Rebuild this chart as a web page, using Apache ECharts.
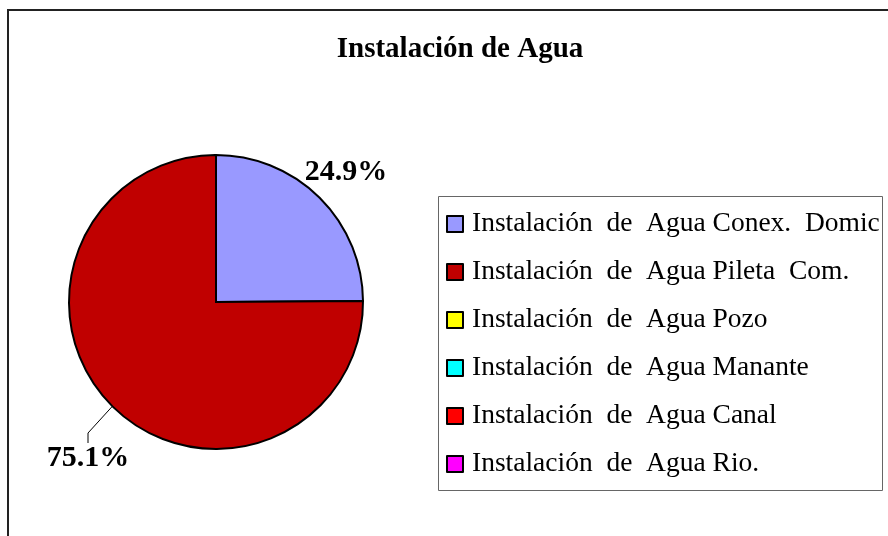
<!DOCTYPE html>
<html>
<head>
<meta charset="utf-8">
<script src="https://cdn.jsdelivr.net/npm/echarts@6/dist/echarts.min.js"></script>
<style>
html,body{margin:0;padding:0;background:#fff}
#chart{width:888px;height:536px}
</style>
</head>
<body>
<div id="chart"></div>
<script>
var categories = [
    'Instalación  de  Agua Conex.  Domic',
    'Instalación  de  Agua Pileta  Com.',
    'Instalación  de  Agua Pozo',
    'Instalación  de  Agua Manante',
    'Instalación  de  Agua Canal',
    'Instalación  de  Agua Rio.'
]
var values = [24.9, 75.1, 0, 0, 0, 0]
var colors = ['#9999ff', '#c00000', '#ffff00', '#00ffff', '#ff0000', '#ff00ff']

var serif = '"Liberation Serif", "Times New Roman", serif'

var pie_data = []
for (var i = 0; i < categories.length; i++) {
    var item = {name: categories[i], value: values[i], itemStyle: {color: colors[i]}}
    if (values[i] == 0) {
        item.label = {show: false}
        item.labelLine = {show: false}
    }
    pie_data.push(item)
}
pie_data[0].labelLine = {show: false}

var chart = echarts.init(document.getElementById('chart'))

var opt = {
    animation: false,
    title: {
        text: 'Instalación de Agua',
        left: 455,
        top: 30,
        textAlign: 'center',
        textStyle: {fontFamily: serif, fontSize: 29, fontWeight: 'bold', color: '#000'}
    },
    graphic: [
        {type: 'rect', shape: {x: 8, y: 10, width: 900, height: 560},
         style: {fill: 'none', stroke: '#222', lineWidth: 2}, silent: true, z: -1},
        {type: 'rect', shape: {x: 438.5, y: 196.5, width: 444, height: 294},
         style: {fill: 'none', stroke: '#666', lineWidth: 1}, silent: true, z: -1}
    ],
    legend: {
        orient: 'vertical',
        left: 446,
        top: 210,
        padding: 0,
        itemWidth: 16,
        itemHeight: 16,
        itemGap: 20,
        icon: 'rect',
        selectedMode: false,
        textStyle: {fontFamily: serif, fontSize: 27.5, color: '#000',
                    padding: [0, 0, 0, 4], width: 410, overflow: 'truncate', ellipsis: ''},
        data: categories
    },
    series: [{
        type: 'pie',
        center: [216, 302],
        radius: 147,
        startAngle: 90,
        percentPrecision: 1,
        avoidLabelOverlap: false,
        itemStyle: {borderColor: '#000', borderWidth: 2},
        emphasis: {disabled: true},
        label: {
            show: true,
            formatter: '{d}%',
            fontFamily: serif,
            fontSize: 30,
            fontWeight: 'bold',
            color: '#000'
        },
        labelLine: {show: true, length: 10, length2: 10, lineStyle: {color: '#000', width: 1}},
        labelLayout: function(params){
            if (params.dataIndex == 0) return {x: 346, y: 172, align: 'center', verticalAlign: 'middle'}
            if (params.dataIndex == 1) return {x: 88, y: 458, align: 'center', verticalAlign: 'middle'}
        },
        data: pie_data
    }]
}

chart.setOption(opt)
</script>
</body>
</html>
